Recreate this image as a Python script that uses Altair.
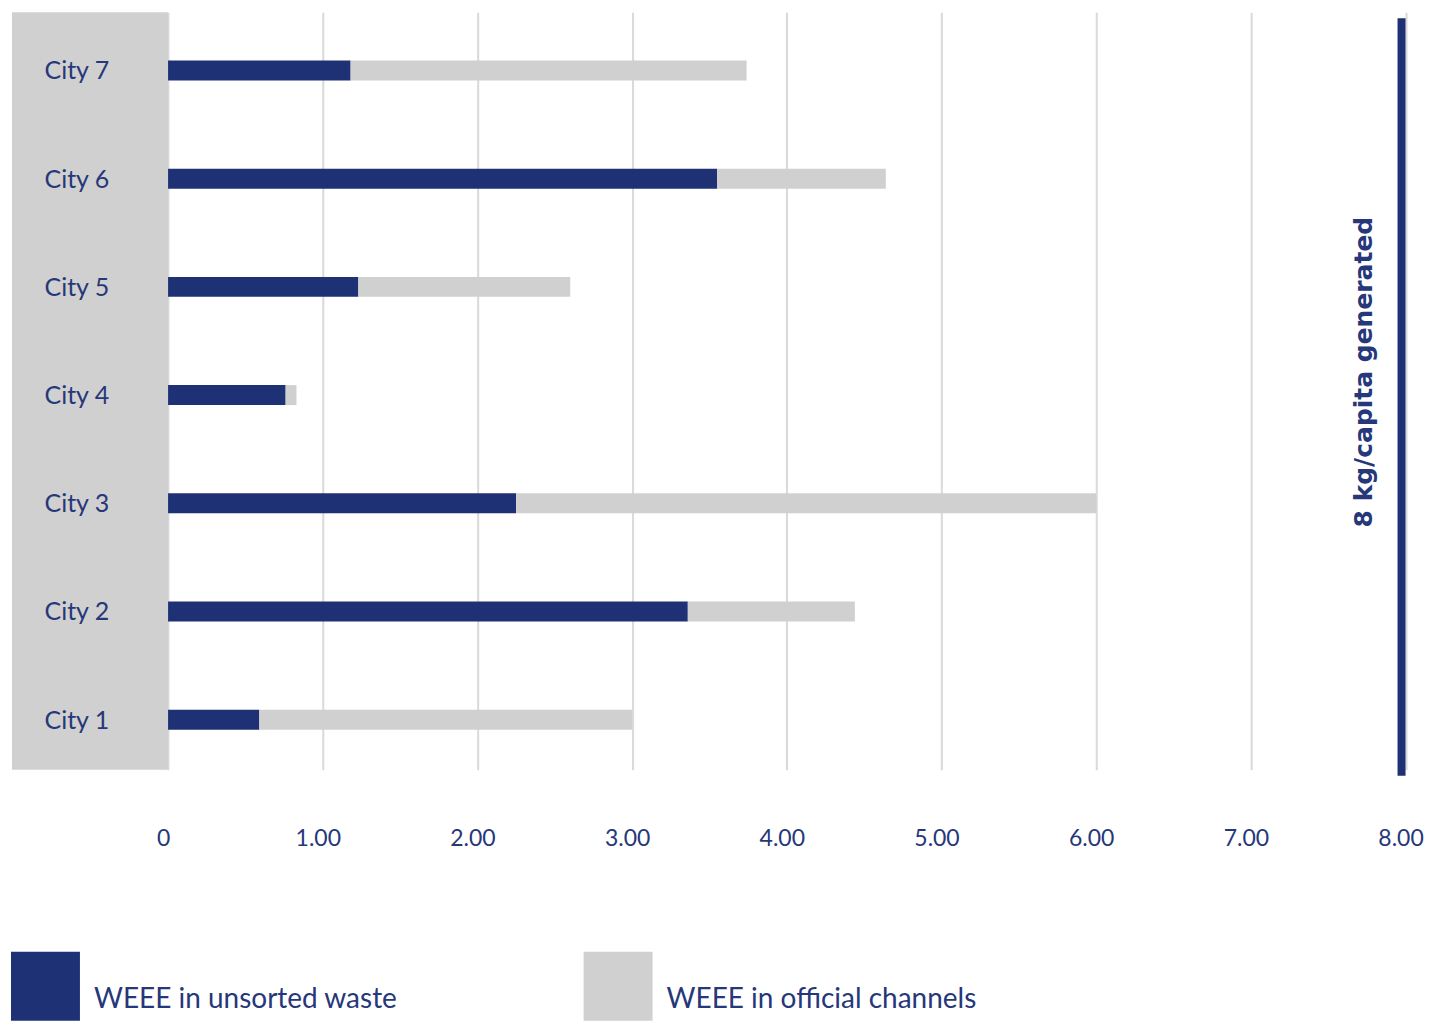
import altair as alt
import pandas as pd

cities = ["City 1", "City 2", "City 3", "City 4", "City 5", "City 6", "City 7"]
unsorted = [0.59, 3.36, 2.25, 0.76, 1.23, 3.55, 1.18]
official = [2.41, 1.08, 3.75, 0.07, 1.37, 1.09, 2.56]
series = ["WEEE in unsorted waste", "WEEE in official channels"]
ticks = [0, 1, 2, 3, 4, 5, 6, 7, 8]
generated_label = "8 kg/capita generated"
generated_value = 8

NAVY = "#1e3174"
GRAY = "#d0d0d0"
TEXT = "#26377a"
FONT = "Lato"

rows = []
for c, u, o in zip(cities, unsorted, official):
    rows.append({"city": c, "series": series[0], "value": u, "order": 0})
    rows.append({"city": c, "series": series[1], "value": o, "order": 1})
df = pd.DataFrame(rows)

order_y = cities[::-1]
xscale = alt.Scale(domain=[-1.009, 8.1], nice=False, zero=False)
xaxis = alt.Axis(values=ticks, title=None, grid=True, gridColor="#d9d9d9", gridWidth=2,
                 domain=False, ticks=False, labelFont=FONT, labelFontSize=23,
                 labelColor=TEXT, labelPadding=58, labelOffset=-5,
                 labelExpr="datum.value == 0 ? '0' : format(datum.value, '.2f')")

box = alt.Chart(pd.DataFrame({"a": [-1.009], "b": [0]})).mark_rect(color=GRAY).encode(
    x=alt.X("a:Q", scale=xscale, axis=xaxis),
    x2="b:Q",
    y=alt.value(0),
    y2=alt.value(758),
)

bars = alt.Chart(df).mark_bar(size=20, yOffset=4).encode(
    x=alt.X("sum(value):Q", scale=xscale, stack="zero", axis=xaxis),
    y=alt.Y("city:N", sort=order_y, scale=alt.Scale(paddingInner=0, paddingOuter=0),
            axis=alt.Axis(title=None, domain=False, ticks=False, labelAlign="left",
                          labelPadding=-32, labelFont=FONT, labelFontSize=25,
                          labelColor=TEXT, labelOffset=5, grid=False, zindex=1)),
    color=alt.Color("series:N", scale=alt.Scale(domain=series, range=[NAVY, GRAY]),
                    legend=alt.Legend(title=None, orient="none", legendX=-1, legendY=940,
                                      direction="horizontal", columns=2,
                                      symbolType="square", symbolSize=4760,
                                      symbolStrokeWidth=0, symbolOpacity=1,
                                      labelFont=FONT, labelFontSize=28, labelColor=TEXT,
                                      labelBaseline="top",
                                      labelOffset=14, columnPadding=186, labelLimit=600)),
    order=alt.Order("order:Q"),
)

rule_df = pd.DataFrame({"x": [generated_value], "label": [generated_label]})
rule = alt.Chart(rule_df).mark_rule(color=NAVY, strokeWidth=8, xOffset=-4).encode(
    x=alt.X("x:Q", scale=xscale, axis=xaxis),
    y=alt.value(6),
    y2=alt.value(764),
)

text = alt.Chart(pd.DataFrame({"x": [7.73], "label": [generated_label]})).mark_text(
    angle=270, font="DejaVu Sans", fontSize=25, fontWeight="bold", color=TEXT,
    align="center", baseline="middle"
).encode(
    x=alt.X("x:Q", scale=xscale, axis=xaxis),
    y=alt.value(360),
    text="label:N",
)

chart = alt.layer(box, bars, rule, text).properties(
    width=1410, height=758,
    padding={"left": 3, "top": 4, "right": 5, "bottom": 5},
).configure_view(stroke=None)

chart.save("out.html", embed_options={"renderer": "svg", "actions": False})
